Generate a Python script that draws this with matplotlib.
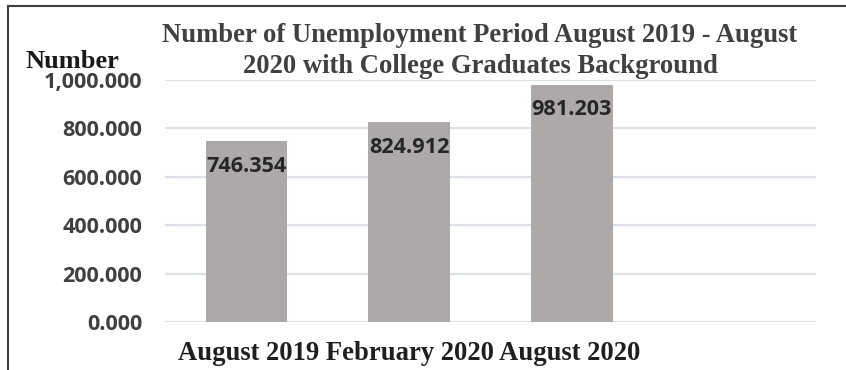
import numpy as np
import matplotlib
matplotlib.use('Agg')
import matplotlib.pyplot as plt
from matplotlib.lines import Line2D
from matplotlib import transforms

# data
categories = ['August 2019', 'February 2020', 'August 2020', '']
values = [746.354, 824.912, 981.203, np.nan]
value_labels = ['746.354', '824.912', '981.203', '']
yticks = [0, 200, 400, 600, 800, 1000]
ytick_labels = ['0.000', '200.000', '400.000', '600.000', '800.000', '1,000.000']

TITLE = ('Number of Unemployment Period August 2019 - August\n'
         '2020 with College Graduates Background')

SERIF = 'Liberation Serif'
SANS = 'Open Sans'
BAR_COLOR = '#ada9a8'
GRID_COLOR = '#dde1e8'
TEXT_GREY = '#404040'

fig = plt.figure(figsize=(8.46, 3.70), dpi=100)
ax = fig.add_axes([165 / 846, 1 - 322 / 370, 651 / 846, 242 / 370])

x = np.arange(len(categories))
bars = ax.bar(x, values, width=0.5, color=BAR_COLOR, zorder=2)

for xi, v, lab in zip(x, values, value_labels):
    if not lab:
        continue
    ax.annotate(lab, (xi, v), xytext=(0, -18), textcoords='offset points',
                ha='center', va='center', fontsize=15.6, fontweight='bold',
                family=SANS, color='#262626', zorder=3)

ax.set_xlim(-0.5, len(categories) - 0.5)
ax.set_ylim(0, 1000)
ax.set_yticks(yticks)
ax.set_yticklabels(ytick_labels, family=SANS, fontweight='bold',
                   fontsize=15.6, color=TEXT_GREY)
ax.tick_params(axis='y', length=0, pad=16.5)
ax.set_xticks([])
for s in ax.spines.values():
    s.set_visible(False)
ax.grid(axis='y', color=GRID_COLOR, lw=1.6, zorder=0)
ax.set_axisbelow(True)

# category labels written as one line under the bars
trans = transforms.blended_transform_factory(ax.transData, fig.transFigure)
ax.text(1, 1 - 353 / 370, ' '.join(c for c in categories if c),
        transform=trans, ha='center', va='center', family=SERIF,
        fontweight='bold', fontsize=19.2, color='#1f1f1f')

fig.text(480 / 846, 1 - 51 / 370, TITLE, ha='center', va='center',
         family=SERIF, fontweight='bold', fontsize=19.2, color=TEXT_GREY,
         linespacing=1.3)
fig.text(25 / 846, 1 - 62 / 370, 'Number', ha='left', va='center',
         family=SERIF, fontweight='bold', fontsize=19, color='#1a1a1a')

# frame
fig.add_artist(Line2D([8 / 846, 8 / 846], [0, 1 - 6 / 370],
                      color='#404040', lw=1.5, transform=fig.transFigure))
fig.add_artist(Line2D([8 / 846, 1], [1 - 6 / 370, 1 - 6 / 370],
                      color='#404040', lw=1.5, transform=fig.transFigure))

fig.savefig('out.png', dpi=100)
